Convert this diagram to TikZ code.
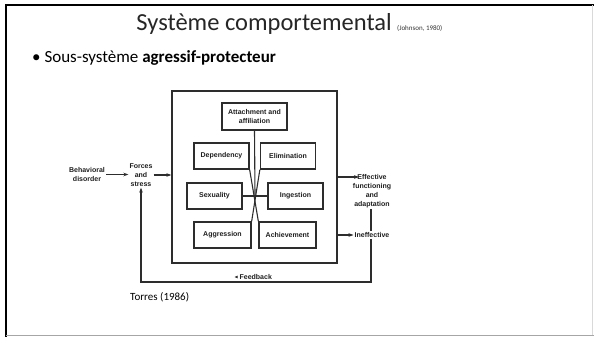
\documentclass[tikz,border=0pt]{standalone}
\usepackage{fontspec}
\usepackage{amssymb}
\setmainfont{Carlito}
\newfontfamily\diagfont{Liberation Sans}
\usetikzlibrary{positioning, calc, arrows.meta}
\definecolor{lineGray}{RGB}{45,45,45}
\definecolor{txtGray}{RGB}{30,30,30}
\tikzset{
    subbox/.style={
        draw=lineGray,
        line width=1.3pt,
        minimum width=55pt,
        minimum height=26pt,
        inner sep=1pt,
        align=center,
        text=txtGray,
        font=\diagfont\bfseries\fontsize{7}{8.5}\selectfont
    },
    lbl/.style={
        align=center,
        inner sep=1pt,
        text=txtGray,
        font=\diagfont\bfseries\fontsize{7}{9}\selectfont
    },
    flow/.style={
        draw=lineGray,
        line width=1.1pt,
        -{Stealth[length=5pt,width=3.6pt]}
    },
    link/.style={
        draw=lineGray,
        line width=1.1pt
    }
}

\begin{document}
\begin{tikzpicture}[x=1pt,y=-1pt]
    \useasboundingbox (0,0) rectangle (594,337);
    % 1. Cadre de la diapo
    \draw[line width=2pt] (594,5) -- (6,5) -- (6,337);
    \draw[black!35, line width=1.5pt] (6,335.5) -- (594,335.5);
    \draw[black!15, line width=1pt] (592,5) -- (592,335);

    % 2. Titre et puce
    \node[anchor=base east, inner sep=0pt, text=black!85, font=\fontsize{24.5}{28}\selectfont] (title) at (392,31) {Système comportemental};
    \node[anchor=base west, inner sep=0pt, xshift=5pt, text=black!80, font=\fontsize{7}{8}\selectfont] (src) at (title.base east) {(Johnson, 1980)};
    \node[anchor=base west, inner sep=0pt, font=\fontsize{17}{20}\selectfont] (bullet) at (32,63) {• Sous-système \textbf{agressif-protecteur}};

    % 3. Le systeme et ses sous-systemes
    \node[subbox, minimum width=165pt, minimum height=172pt] (sys) at (254.5,177) {};
    \node[subbox, minimum width=65pt, minimum height=27pt] (attach) at (254.5,116.5) {Attachment and\\affiliation};
    \node[subbox] (dep) at (221.5,156) {Dependency};
    \node[subbox] (elim) at (288,156) {Elimination};
    \node[subbox] (sex) at (214.5,196) {Sexuality};
    \node[subbox] (ing) at (295.5,196) {Ingestion};
    \node[subbox, minimum width=57pt] (aggr) at (222.5,235) {Aggression};
    \node[subbox, minimum width=57pt] (achv) at (287.5,235) {Achievement};
    \coordinate (cross) at (255,196);

    \draw[link] (attach.south) -- (cross);
    \draw[link] (dep.south east) -- (achv.north west);
    \draw[link] (elim.south west) -- (aggr.north east);
    \draw[link] (sex.east) -- (ing.west);

    % 4. Entrees et sorties
    \node[lbl] (beh) at (87,174.5) {Behavioral\\disorder};
    \node[lbl] (forces) at (141,175) {Forces\\and\\stress};
    \node[lbl] (eff) at (372,191) {Effective\\functioning\\and\\adaptation};
    \node[lbl] (ineff) at (372,235) {Ineffective};
    \coordinate (effin) at (359,177);

    \draw[flow] (beh.east) -- (beh.east -| forces.west);
    \draw[flow] (forces.east) -- (forces.east -| sys.west);
    \draw[flow] (sys.east |- effin) -- (effin);
    \draw[flow] (sys.east |- ineff.west) -- (ineff.west);

    % 5. Boucle de retroaction
    \coordinate (fbR) at (371,282);
    \coordinate (fbL) at (141,282);
    \draw[link] (eff.south -| fbR) -- (ineff.north -| fbR);
    \draw[flow] (ineff.south -| fbR) -- (fbR) -- (fbL) -- (forces.south);
    \node[lbl, anchor=south, inner sep=1.5pt] (fb) at (253,281) {\raisebox{.2ex}{\fontsize{4}{4}\selectfont$\blacktriangleleft$}\,Feedback};

    % 6. Source
    \node[anchor=base west, inner sep=0pt, font=\fontsize{11}{13}\selectfont] (torres) at (130,300) {Torres (1986)};
\end{tikzpicture}
\end{document}
